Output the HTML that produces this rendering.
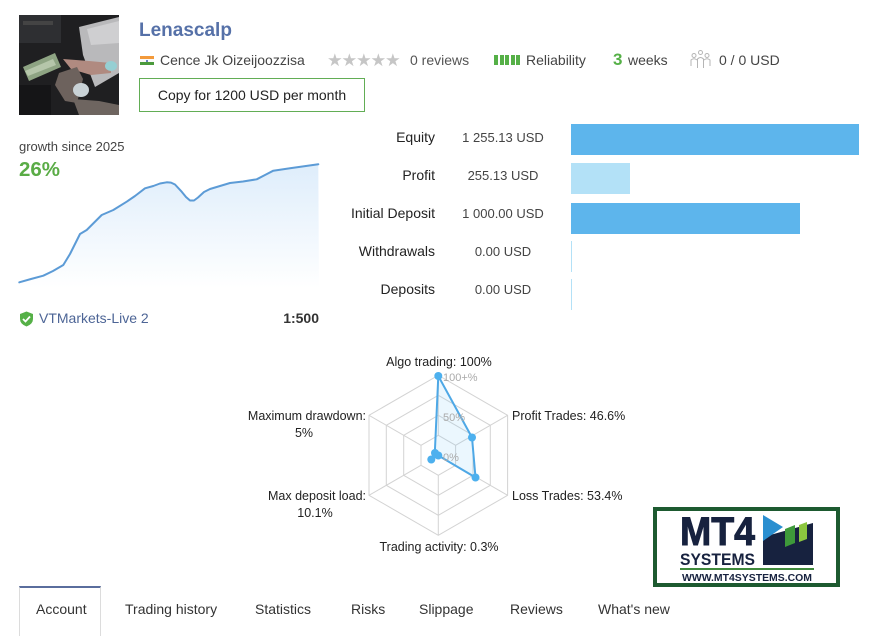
<!DOCTYPE html>
<html>
<head>
<meta charset="utf-8">
<style>
html,body{margin:0;padding:0;}
body{width:880px;height:628px;background:#fff;overflow:hidden;position:relative;font-family:"Liberation Sans",Arial,sans-serif;color:#333;}
.a{position:absolute;white-space:nowrap;}
.lbl{position:absolute;width:120px;text-align:right;font-size:14px;color:#222;line-height:16px;}
.val{position:absolute;width:120px;text-align:center;font-size:13px;color:#444;line-height:16px;}
.bar{position:absolute;left:571px;height:31px;}
.tab{position:absolute;top:600px;font-size:14px;color:#333;line-height:18px;}
</style>
</head>
<body>

<!-- Photo -->
<svg class="a" style="left:19px;top:15px" width="100" height="100" viewBox="0 0 100 100">
  <rect width="100" height="100" fill="#1f1f21"/>
  <rect x="0" y="0" width="42" height="28" fill="#2e2f32"/>
  <rect x="4" y="6" width="30" height="4" fill="#444"/>
  <polygon points="60,12 100,2 100,58 76,72 64,40" fill="#b9b9bb"/>
  <polygon points="68,14 100,6 100,28 72,30" fill="#cfcfd1"/>
  <polygon points="4,52 36,38 42,52 10,66" fill="#8ea483"/>
  <polygon points="6,56 34,44 37,50 9,61" fill="#b5c6aa"/>
  <polygon points="44,44 70,46 92,48 92,58 72,60 52,54" fill="#b08a80"/>
  <polygon points="40,58 58,52 64,64 58,88 46,86 36,70" fill="#6d625d"/>
  <polygon points="54,84 80,86 100,90 100,100 60,100" fill="#6e6560"/>
  <ellipse cx="62" cy="75" rx="8" ry="7" fill="#c9d2d6"/>
  <ellipse cx="92" cy="51" rx="6" ry="5" fill="#96cfd3"/>
  <rect x="0" y="70" width="32" height="30" fill="#151517"/>
</svg>

<!-- Title -->
<div class="a" style="left:139px;top:19px;font-size:19px;font-weight:bold;color:#5671a8;line-height:24px;">Lenascalp</div>

<!-- Flag -->
<div class="a" style="left:140px;top:56px;width:14px;height:9px;">
  <div style="height:3px;background:#f39a3b"></div>
  <div style="height:3px;background:#fafafa;position:relative"><div style="position:absolute;left:6px;top:0.5px;width:2px;height:2px;border-radius:1px;background:#3a5aa8"></div></div>
  <div style="height:3px;background:#4b9a3c"></div>
</div>
<div class="a" style="left:160px;top:52px;font-size:14px;color:#444;line-height:16px;">Cence Jk Oizeijoozzisa</div>

<!-- Stars -->
<div class="a" style="left:327px;top:50px;font-size:17.5px;color:#c6c6c6;line-height:20px;letter-spacing:-1.2px;">★★★★★</div>
<div class="a" style="left:410px;top:52px;font-size:14px;color:#555;line-height:16px;">0 reviews</div>

<!-- Reliability bars -->
<div class="a" style="left:494px;top:55px;">
  <div style="position:absolute;left:0;width:4px;height:10px;background:#55b047"></div>
  <div style="position:absolute;left:5.5px;width:4px;height:10px;background:#55b047"></div>
  <div style="position:absolute;left:11px;width:4px;height:10px;background:#55b047"></div>
  <div style="position:absolute;left:16.5px;width:4px;height:10px;background:#55b047"></div>
  <div style="position:absolute;left:22px;width:4px;height:10px;background:#55b047"></div>
</div>
<div class="a" style="left:526px;top:52px;font-size:14px;color:#444;line-height:16px;">Reliability</div>
<div class="a" style="left:613px;top:50px;font-size:17px;font-weight:bold;color:#55b047;line-height:19px;">3</div>
<div class="a" style="left:628px;top:52px;font-size:14px;color:#444;line-height:16px;">weeks</div>

<!-- people icon -->
<svg class="a" style="left:690px;top:50px" width="21" height="19" viewBox="0 0 21 19" fill="none" stroke="#b5b5b5" stroke-width="1">
  <circle cx="10.5" cy="2.5" r="2"/>
  <circle cx="4" cy="5.5" r="2"/>
  <circle cx="17" cy="5.5" r="2"/>
  <path d="M7.5 18 V9 Q10.5 6 13.5 9 V18"/>
  <path d="M1 16 V10 Q4 7.5 7 10"/>
  <path d="M20 16 V10 Q17 7.5 14 10"/>
</svg>
<div class="a" style="left:719px;top:52px;font-size:14px;color:#444;line-height:16px;">0 / 0 USD</div>

<!-- Button -->
<div class="a" style="left:139px;top:78px;width:224px;height:32px;border:1px solid #62ad55;text-align:center;font-size:14px;color:#222;line-height:32px;">Copy for 1200 USD per month</div>

<!-- Growth -->
<div class="a" style="left:19px;top:139px;font-size:13px;color:#444;line-height:16px;">growth since 2025</div>
<div class="a" style="left:19px;top:158px;font-size:20.5px;font-weight:bold;color:#5aac46;line-height:24px;">26%</div>

<svg class="a" style="left:0;top:0" width="330" height="300" viewBox="0 0 330 300">
  <defs>
    <linearGradient id="gf" x1="0" y1="164" x2="0" y2="288" gradientUnits="userSpaceOnUse">
      <stop offset="0" stop-color="#deedfb"/>
      <stop offset="1" stop-color="#ffffff"/>
    </linearGradient>
  </defs>
  <polygon fill="url(#gf)" points="19.3,282.3 31,279 43.3,275.7 53,271 63.3,265 70,254 80,234 86.7,230 101.7,215 113.3,210 126.7,201.7 135,196 145,188.3 153.3,186 160,183.5 166.7,182.3 171,182.6 175,184.5 181.7,191.7 186,197 190,200.5 194,200.5 198,197.5 204,192 210,189 220,186 230,183 243,181.5 256.7,179.3 265,175 273.3,170.7 290,168.3 318.3,164.3 319,290 19,290"/>
  <polyline fill="none" stroke="#5c9bd6" stroke-width="2" stroke-linejoin="round" stroke-linecap="round" points="19.3,282.3 31,279 43.3,275.7 53,271 63.3,265 70,254 80,234 86.7,230 101.7,215 113.3,210 126.7,201.7 135,196 145,188.3 153.3,186 160,183.5 166.7,182.3 171,182.6 175,184.5 181.7,191.7 186,197 190,200.5 194,200.5 198,197.5 204,192 210,189 220,186 230,183 243,181.5 256.7,179.3 265,175 273.3,170.7 290,168.3 318.3,164.3"/>
</svg>

<!-- Server -->
<svg class="a" style="left:19px;top:311px" width="15" height="16" viewBox="0 0 15 16">
  <path d="M7.5 0.5 L14 3 V8 Q14 13 7.5 15.5 Q1 13 1 8 V3 Z" fill="#55b047"/>
  <path d="M4 8 L6.5 10.5 L11 5.5" fill="none" stroke="#fff" stroke-width="1.8"/>
</svg>
<div class="a" style="left:39px;top:310px;font-size:14px;color:#4d6596;line-height:16px;">VTMarkets-Live 2</div>
<div class="a" style="left:219px;top:310px;width:100px;text-align:right;font-size:14px;font-weight:bold;color:#333;line-height:16px;">1:500</div>

<!-- Bars table -->
<div class="lbl" style="left:315px;top:129px;">Equity</div>
<div class="val" style="left:443px;top:130px;">1 255.13 USD</div>
<div class="bar" style="top:124px;width:288px;background:#5db5ec;"></div>

<div class="lbl" style="left:315px;top:167px;">Profit</div>
<div class="val" style="left:443px;top:168px;">255.13 USD</div>
<div class="bar" style="top:163px;width:59px;background:#b3e1f7;"></div>

<div class="lbl" style="left:315px;top:205px;">Initial Deposit</div>
<div class="val" style="left:443px;top:206px;">1 000.00 USD</div>
<div class="bar" style="top:203px;width:229px;background:#5db5ec;"></div>

<div class="lbl" style="left:315px;top:243px;">Withdrawals</div>
<div class="val" style="left:443px;top:244px;">0.00 USD</div>
<div class="bar" style="top:241px;width:1px;background:#b3e1f7;"></div>

<div class="lbl" style="left:315px;top:281px;">Deposits</div>
<div class="val" style="left:443px;top:282px;">0.00 USD</div>
<div class="bar" style="top:279px;width:1px;background:#b3e1f7;"></div>

<!-- Radar -->
<svg class="a" style="left:0;top:0" width="880" height="628" viewBox="0 0 880 628">
  <g fill="none" stroke="#d3d3d3" stroke-width="1">
    <polygon points="438.3,375.3 507.6,415.3 507.6,495.3 438.3,535.3 369,495.3 369,415.3"/>
    <polygon points="438.3,395.3 490.3,425.3 490.3,485.3 438.3,515.3 386.3,485.3 386.3,425.3"/>
    <polygon points="438.3,415.3 473,435.3 473,475.3 438.3,495.3 403.7,475.3 403.7,435.3"/>
    <polygon points="438.3,435.3 455.6,445.3 455.6,465.3 438.3,475.3 421,465.3 421,445.3"/>
    <line x1="438.3" y1="375.3" x2="438.3" y2="435.3"/>
    <line x1="507.6" y1="415.3" x2="455.6" y2="445.3"/>
    <line x1="507.6" y1="495.3" x2="455.6" y2="465.3"/>
    <line x1="438.3" y1="535.3" x2="438.3" y2="475.3"/>
    <line x1="369" y1="495.3" x2="421" y2="465.3"/>
    <line x1="369" y1="415.3" x2="421" y2="445.3"/>
  </g>
  <polygon points="438.3,376 472,437.5 475.5,477.5 438.3,455.5 431.3,459.5 434.8,453" fill="rgba(110,195,245,0.14)" stroke="#4ea8e6" stroke-width="2" stroke-linejoin="round"/>
  <g font-family="Liberation Sans, Arial, sans-serif" font-size="11" fill="#aaaaaa">
    <text x="443" y="381">100+%</text>
    <text x="443" y="421">50%</text>
    <text x="443" y="461">0%</text>
  </g>
  <g fill="#4db0ee">
    <circle cx="438.3" cy="376" r="4"/>
    <circle cx="472" cy="437.5" r="4"/>
    <circle cx="475.5" cy="477.5" r="4"/>
    <circle cx="438.3" cy="455.5" r="4"/>
    <circle cx="431.3" cy="459.5" r="4"/>
    <circle cx="435" cy="453" r="4"/>
  </g>
  <g font-family="Liberation Sans, Arial, sans-serif" font-size="12.5" fill="#222">
    <text x="439" y="366" text-anchor="middle">Algo trading: 100%</text>
    <text x="512" y="420">Profit Trades: 46.6%</text>
    <text x="512" y="500">Loss Trades: 53.4%</text>
    <text x="439" y="551" text-anchor="middle">Trading activity: 0.3%</text>
    <text x="366" y="420" text-anchor="end">Maximum drawdown:</text>
    <text x="304" y="437" text-anchor="middle">5%</text>
    <text x="366" y="500" text-anchor="end">Max deposit load:</text>
    <text x="315" y="517" text-anchor="middle">10.1%</text>
  </g>
</svg>

<!-- MT4 logo -->
<div class="a" style="left:653px;top:507px;width:179px;height:72px;border:4px solid #1d5a30;background:#fff;"></div>
<svg class="a" style="left:653px;top:507px" width="187" height="81" viewBox="0 0 187 81">
  <text x="27" y="38" font-family="Liberation Sans, Arial, sans-serif" font-weight="bold" font-size="40" fill="#17223f" stroke="#17223f" stroke-width="1" textLength="75" lengthAdjust="spacingAndGlyphs">MT4</text>
  <text x="27" y="58" font-family="Liberation Sans, Arial, sans-serif" font-weight="bold" font-size="17" fill="#17223f" textLength="75" lengthAdjust="spacingAndGlyphs">SYSTEMS</text>
  <rect x="27" y="61" width="134" height="2" fill="#3f8a3c"/>
  <text x="29" y="74" font-family="Liberation Sans, Arial, sans-serif" font-weight="bold" font-size="10" fill="#17223f" textLength="130" lengthAdjust="spacingAndGlyphs">WWW.MT4SYSTEMS.COM</text>
  <polygon points="110,58 110,30 160,16 160,58" fill="#17223f"/>
  <polygon points="110,8 130,20 110,34" fill="#2a8fd0"/>
  <polygon points="132,22 142,18 142,36 132,40" fill="#3e9a3a"/>
  <polygon points="146,18 154,15 154,32 146,35" fill="#8cc63f"/>
</svg>

<!-- Tabs -->
<div class="a" style="left:19px;top:586px;width:82px;height:50px;border-top:2px solid #5a6d9d;border-left:1px solid #dcdcdc;border-right:1px solid #dcdcdc;box-sizing:border-box;"></div>
<div class="tab" style="left:36px;">Account</div>
<div class="tab" style="left:125px;">Trading history</div>
<div class="tab" style="left:255px;">Statistics</div>
<div class="tab" style="left:351px;">Risks</div>
<div class="tab" style="left:419px;">Slippage</div>
<div class="tab" style="left:510px;">Reviews</div>
<div class="tab" style="left:598px;">What's new</div>

</body>
</html>
